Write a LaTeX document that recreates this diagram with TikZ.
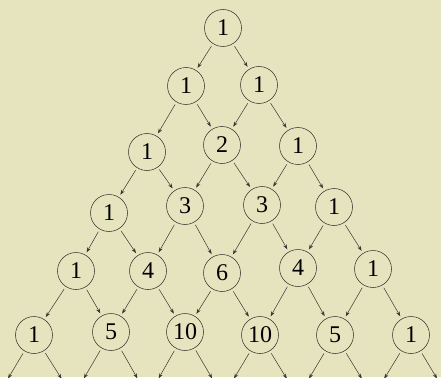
\documentclass[tikz,border=0pt]{standalone}
\usepackage{fontspec}
\setmainfont{Liberation Serif}
\usetikzlibrary{arrows.meta}
\definecolor{pagebeige}{RGB}{229,228,191}
\definecolor{edgegray}{RGB}{55,55,50}

\begin{document}
\begin{tikzpicture}[x=1pt, y=-1pt, >={Stealth[length=5pt,width=3.6pt]},
    entry/.style={circle, draw=edgegray, line width=0.55pt, minimum size=37pt,
      inner sep=0pt, outer sep=3pt, font=\fontsize{24}{27}\selectfont},
    link/.style={->, edgegray, line width=0.5pt}]
  % ---- background / page size ----
  \fill[pagebeige] (0,0) rectangle (441,377);
  \useasboundingbox (0,0) rectangle (441,377);

  % ---- rows of the triangle ----
  \node[entry] (n00) at (223,28) {1};

  \node[entry] (n10) at (186,86) {1};
  \node[entry] (n11) at (259,85) {1};

  \node[entry] (n20) at (147,152) {1};
  \node[entry] (n21) at (222,145) {2};
  \node[entry] (n22) at (298,146) {1};

  \node[entry] (n30) at (109,213) {1};
  \node[entry] (n31) at (185,206) {3};
  \node[entry] (n32) at (262,205) {3};
  \node[entry] (n33) at (334,207) {1};

  \node[entry] (n40) at (76,271) {1};
  \node[entry] (n41) at (148,271) {4};
  \node[entry] (n42) at (222,273) {6};
  \node[entry] (n43) at (298,268) {4};
  \node[entry] (n44) at (373,269) {1};

  \node[entry] (n50) at (34,335) {1};
  \node[entry] (n51) at (111,332) {5};
  \node[entry] (n52) at (185,332) {10};
  \node[entry] (n53) at (260,335) {10};
  \node[entry] (n54) at (335,335) {5};
  \node[entry] (n55) at (411,335) {1};

  % ---- next row (off the page) ----
  \coordinate (b0) at (-3,397);
  \coordinate (b1) at (73,397);
  \coordinate (b2) at (148,397);
  \coordinate (b3) at (223,397);
  \coordinate (b4) at (298,397);
  \coordinate (b5) at (373,397);
  \coordinate (b6) at (448,397);

  % ---- arrows, each entry feeds the two below ----
  \draw[link] (n00) -- (n10);
  \draw[link] (n00) -- (n11);

  \draw[link] (n10) -- (n20);
  \draw[link] (n10) -- (n21);
  \draw[link] (n11) -- (n21);
  \draw[link] (n11) -- (n22);

  \draw[link] (n20) -- (n30);
  \draw[link] (n20) -- (n31);
  \draw[link] (n21) -- (n31);
  \draw[link] (n21) -- (n32);
  \draw[link] (n22) -- (n32);
  \draw[link] (n22) -- (n33);

  \draw[link] (n30) -- (n40);
  \draw[link] (n30) -- (n41);
  \draw[link] (n31) -- (n41);
  \draw[link] (n31) -- (n42);
  \draw[link] (n32) -- (n42);
  \draw[link] (n32) -- (n43);
  \draw[link] (n33) -- (n43);
  \draw[link] (n33) -- (n44);

  \draw[link] (n40) -- (n50);
  \draw[link] (n40) -- (n51);
  \draw[link] (n41) -- (n51);
  \draw[link] (n41) -- (n52);
  \draw[link] (n42) -- (n52);
  \draw[link] (n42) -- (n53);
  \draw[link] (n43) -- (n53);
  \draw[link] (n43) -- (n54);
  \draw[link] (n44) -- (n54);
  \draw[link] (n44) -- (n55);

  \draw[link, shorten >=21.5pt] (n50) -- (b0);
  \draw[link, shorten >=21.5pt] (n50) -- (b1);
  \draw[link, shorten >=21.5pt] (n51) -- (b1);
  \draw[link, shorten >=21.5pt] (n51) -- (b2);
  \draw[link, shorten >=21.5pt] (n52) -- (b2);
  \draw[link, shorten >=21.5pt] (n52) -- (b3);
  \draw[link, shorten >=21.5pt] (n53) -- (b3);
  \draw[link, shorten >=21.5pt] (n53) -- (b4);
  \draw[link, shorten >=21.5pt] (n54) -- (b4);
  \draw[link, shorten >=21.5pt] (n54) -- (b5);
  \draw[link, shorten >=21.5pt] (n55) -- (b5);
  \draw[link, shorten >=21.5pt] (n55) -- (b6);
\end{tikzpicture}
\end{document}
